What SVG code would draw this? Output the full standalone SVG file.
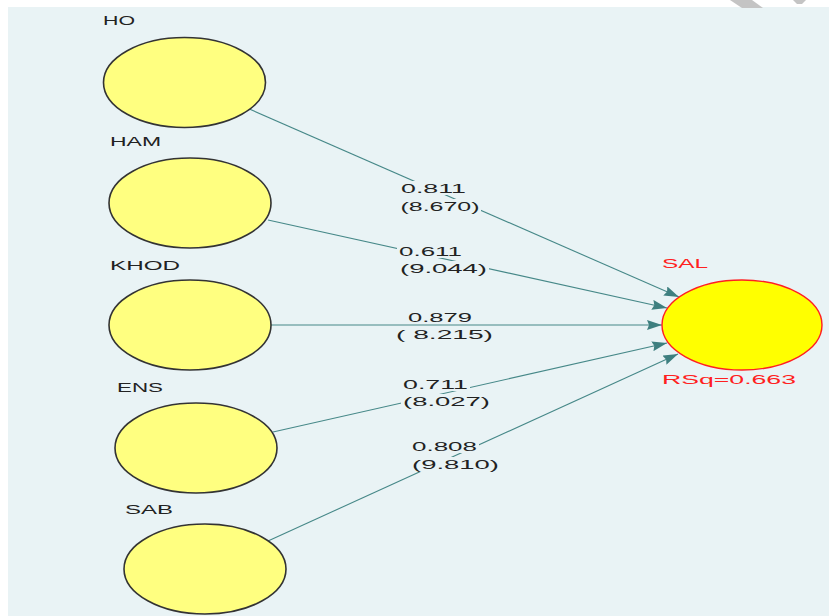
<svg xmlns="http://www.w3.org/2000/svg" width="829" height="616" viewBox="0 0 829 616">
<style>
.bg{fill:#E9F3F5}
.lv{fill:#FFFF80;stroke:#333333;stroke-width:1.6}
.dv{fill:#FFFF00;stroke:#FF2020;stroke-width:1.4}
.t{font-family:"Liberation Sans",Arial,sans-serif;font-size:13px;fill:#222222}
.r{font-family:"Liberation Sans",Arial,sans-serif;font-size:13px;fill:#FF2020}
.c{stroke:#468888;stroke-width:1.1;fill:none;marker-end:url(#ah)}
.lb{fill:#E9F3F5}
.wm{fill:#C4C4C4}
</style>
<defs>
<marker id="ah" markerUnits="userSpaceOnUse" markerWidth="16" markerHeight="10" refX="15" refY="5" orient="auto">
<path d="M0,0 L15,5 L0,10 L2,5 z" fill="#3E7F7F"/>
</marker>
</defs>
<rect x="0" y="0" width="829" height="616" fill="#FFFFFF"/>
<rect class="bg" x="8" y="7" width="821" height="609"/>
<g id="watermark">
<polygon class="wm" points="730,0 752,0 763,8 742,8"/>
<polygon class="wm" points="793,0 806,0 802,4 797,4"/>
</g>
<g id="connectors">
<line class="c" x1="247" y1="108" x2="679" y2="297"/>
<line class="c" x1="268" y1="220" x2="667" y2="308"/>
<line class="c" x1="271" y1="325" x2="662" y2="325"/>
<line class="c" x1="273" y1="432" x2="667" y2="343"/>
<line class="c" x1="268" y1="541" x2="678" y2="354"/>
</g>
<g id="labels">
<rect class="lb" x="399" y="181" width="69" height="14"/>
<rect class="lb" x="399" y="199" width="82" height="15"/>
<text class="t" x="401" y="193" textLength="65" lengthAdjust="spacingAndGlyphs">0.811</text>
<text class="t" x="400.5" y="211" textLength="79" lengthAdjust="spacingAndGlyphs">(8.670)</text>
<rect class="lb" x="397" y="244" width="67" height="14"/>
<rect class="lb" x="398" y="261" width="91" height="15"/>
<text class="t" x="399" y="256" textLength="63" lengthAdjust="spacingAndGlyphs">0.611</text>
<text class="t" x="400" y="273" textLength="87" lengthAdjust="spacingAndGlyphs">(9.044)</text>
<text class="t" x="408" y="322" textLength="64" lengthAdjust="spacingAndGlyphs">0.879</text>
<text class="t" x="396" y="339" xml:space="preserve" textLength="97" lengthAdjust="spacingAndGlyphs">( 8.215)</text>
<rect class="lb" x="401" y="377" width="69" height="14"/>
<rect class="lb" x="401" y="394" width="91" height="15"/>
<text class="t" x="403" y="389" textLength="65" lengthAdjust="spacingAndGlyphs">0.711</text>
<text class="t" x="403" y="406" textLength="87" lengthAdjust="spacingAndGlyphs">(8.027)</text>
<rect class="lb" x="410" y="439" width="69" height="14"/>
<rect class="lb" x="410" y="457" width="91" height="15"/>
<text class="t" x="412" y="451" textLength="65" lengthAdjust="spacingAndGlyphs">0.808</text>
<text class="t" x="412" y="469" textLength="87" lengthAdjust="spacingAndGlyphs">(9.810)</text>
</g>
<g id="HO">
<ellipse class="lv" cx="184.5" cy="82.5" rx="81" ry="45"/>
<text class="t" x="103" y="25" textLength="32" lengthAdjust="spacingAndGlyphs">HO</text>
</g>
<g id="HAM">
<ellipse class="lv" cx="190" cy="203" rx="81" ry="45"/>
<text class="t" x="110" y="146" textLength="51" lengthAdjust="spacingAndGlyphs">HAM</text>
</g>
<g id="KHOD">
<ellipse class="lv" cx="190" cy="325" rx="81" ry="45"/>
<text class="t" x="110" y="270" textLength="70" lengthAdjust="spacingAndGlyphs">KHOD</text>
</g>
<g id="ENS">
<ellipse class="lv" cx="196" cy="448" rx="81" ry="45"/>
<text class="t" x="117" y="392" textLength="46" lengthAdjust="spacingAndGlyphs">ENS</text>
</g>
<g id="SAB">
<ellipse class="lv" cx="205" cy="569" rx="81" ry="45"/>
<text class="t" x="125" y="514" textLength="48" lengthAdjust="spacingAndGlyphs">SAB</text>
</g>
<g id="SAL">
<ellipse class="dv" cx="742" cy="325" rx="80" ry="45"/>
<text class="r" x="662" y="268" textLength="46" lengthAdjust="spacingAndGlyphs">SAL</text>
<text class="r" x="662" y="384" textLength="134" lengthAdjust="spacingAndGlyphs">RSq=0.663</text>
</g>
</svg>
